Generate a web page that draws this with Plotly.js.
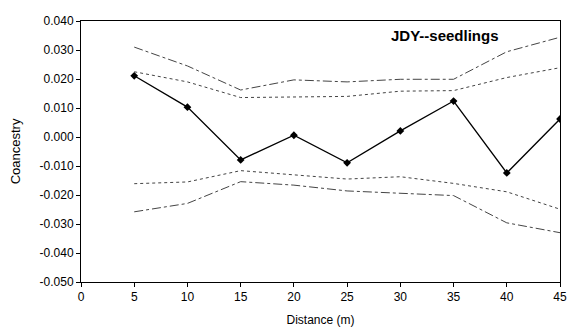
<!DOCTYPE html>
<html><head><meta charset="utf-8">
<script src="https://cdn.plot.ly/plotly-3.0.1.min.js"></script>
<style>body{margin:0;background:#fff}#c{width:568px;height:331px}</style>
</head><body><div id="c"></div>
<script>
const distance = [5, 10, 15, 20, 25, 30, 35, 40, 45];
const observed = [0.0211, 0.0103, -0.0079, 0.0006, -0.0089, 0.0021, 0.0124, -0.0124, 0.0062];
const upperOuter = [0.031, 0.0245, 0.0162, 0.0197, 0.019, 0.0199, 0.0199, 0.0294, 0.0344];
const upperInner = [0.0225, 0.019, 0.0136, 0.0139, 0.014, 0.0158, 0.016, 0.0205, 0.0239];
const lowerInner = [-0.0161, -0.0155, -0.0116, -0.0131, -0.0145, -0.0137, -0.016, -0.0189, -0.0249];
const lowerOuter = [-0.0258, -0.0229, -0.0154, -0.0166, -0.0186, -0.0194, -0.0202, -0.0296, -0.033];
const yTicks = [0.04, 0.03, 0.02, 0.01, 0, -0.01, -0.02, -0.03, -0.04, -0.05];
const yTickText = ["0.040","0.030","0.020","0.010","0.000","-0.010","-0.020","-0.030","-0.040","-0.050"];
const xTicks = [0, 5, 10, 15, 20, 25, 30, 35, 40, 45];

const env = (y, dash) => ({x: distance, y: y, mode: 'lines', line: {color: '#444', width: 1, dash: dash}, hoverinfo: 'skip'});
const data = [
  env(upperOuter, 'dashdot'),
  env(upperInner, 'dot'),
  env(lowerInner, 'dot'),
  env(lowerOuter, 'dashdot'),
  {x: distance, y: observed, mode: 'lines+markers', line: {color: '#000', width: 1.3},
   marker: {symbol: 'diamond', size: 6, color: '#000'}}
];
const fam = 'Liberation Sans, Arial, sans-serif';
const layout = {
  width: 568, height: 331,
  margin: {l: 81, r: 8, t: 21, b: 49},
  paper_bgcolor: '#fff', plot_bgcolor: '#fff',
  showlegend: false,
  font: {family: fam, color: '#000', size: 12},
  xaxis: {range: [0, 45], tickvals: xTicks, ticks: 'outside', ticklen: 4, tickcolor: '#000',
    ticklabeloverflow: 'allow',
    showline: true, linecolor: '#000', linewidth: 1, mirror: true, showgrid: false, zeroline: false,
    title: {text: 'Distance (m)', font: {family: fam, size: 12, color: '#000'}, standoff: 12},
    tickfont: {family: fam, size: 12, color: '#000'}},
  yaxis: {range: [-0.05, 0.04], tickvals: yTicks, ticktext: yTickText, ticks: 'outside', ticklen: 4, tickcolor: '#000',
    showline: true, linecolor: '#000', linewidth: 1, mirror: true, showgrid: false, zeroline: false,
    title: {text: 'Coancestry', font: {family: fam, size: 13, color: '#000'}, standoff: 16},
    tickfont: {family: fam, size: 12, color: '#000'}},
  annotations: [{text: '<b>JDY--seedlings</b>', x: 0.76, y: 0.985, xref: 'paper', yref: 'paper',
    xanchor: 'center', yanchor: 'top', showarrow: false,
    font: {family: fam, size: 15, color: '#000'}}]
};
Plotly.newPlot('c', data, layout, {displayModeBar: false, staticPlot: true});
</script></body></html>
